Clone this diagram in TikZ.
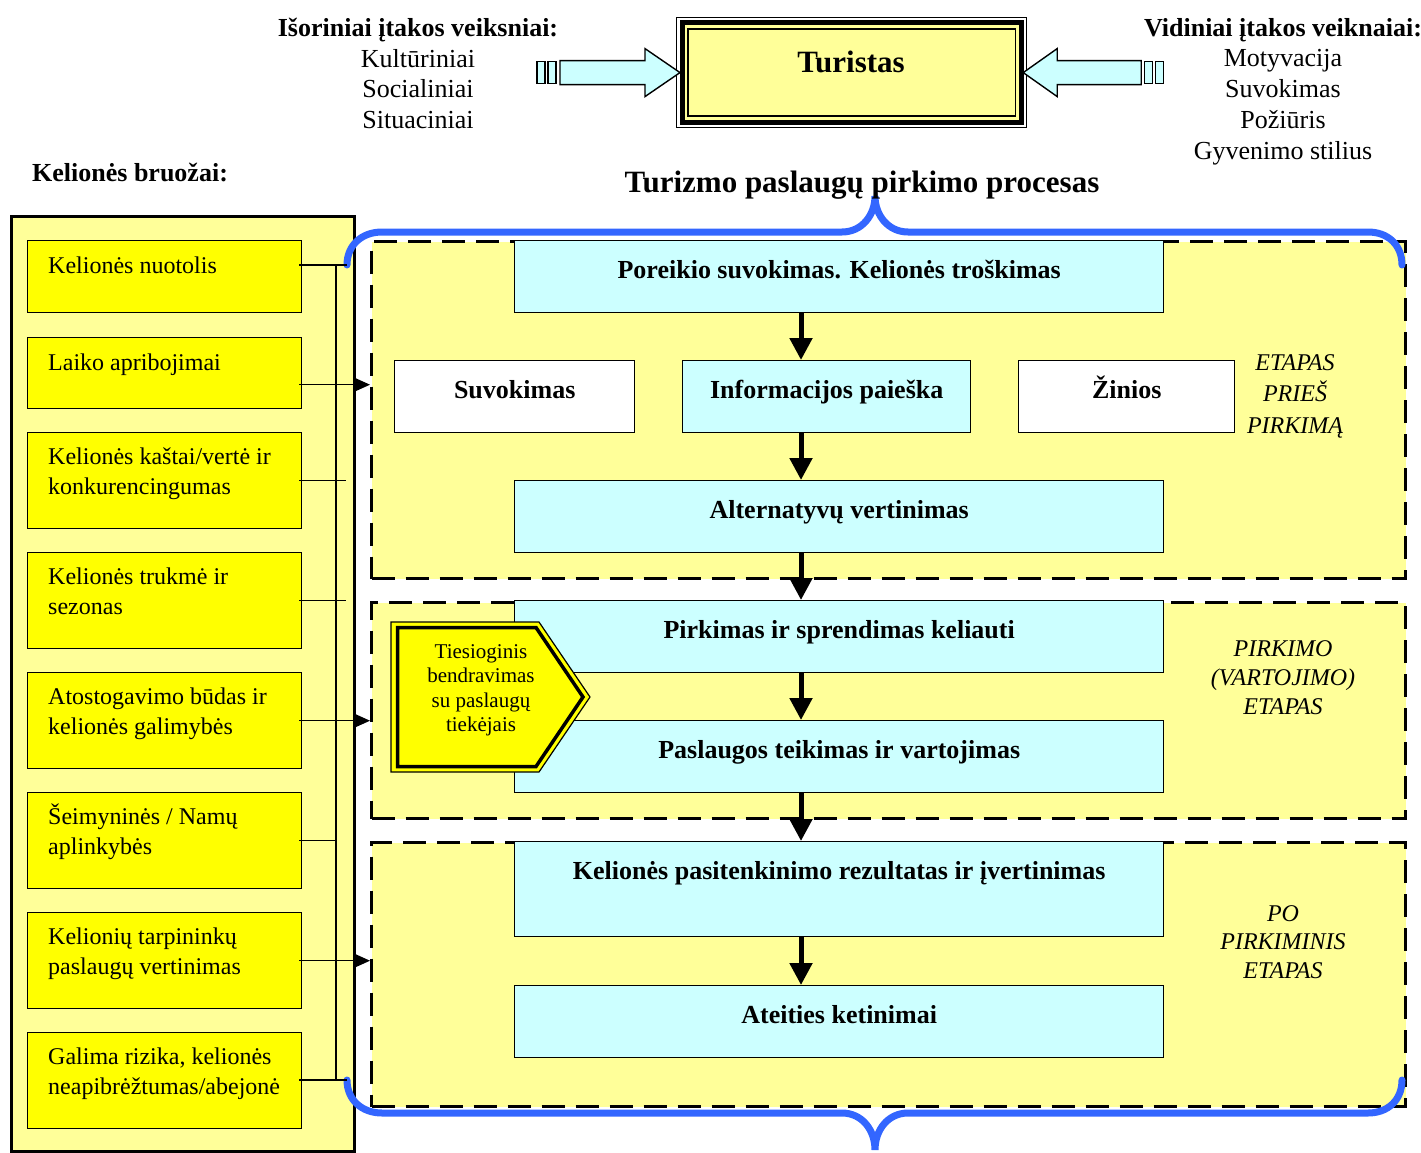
\documentclass[tikz,border=0pt]{standalone}
\usepackage{fontspec}
\setmainfont{Liberation Serif}
\usetikzlibrary{arrows.meta,calc}

\definecolor{paleyellow}{RGB}{255,255,153}
\definecolor{brightyellow}{RGB}{255,255,0}
\definecolor{palecyan}{RGB}{204,255,255}
\definecolor{braceblue}{RGB}{51,102,255}

\tikzset{
  x=1pt, y=-1pt,
  listbox/.style={draw, line width=1.4pt, fill=brightyellow, anchor=north west,
    inner sep=0, minimum width=274, minimum height=#1},
  listtext/.style={anchor=north west, inner sep=0, align=left,
    font=\fontsize{24}{29.5}\selectfont},
  procbox/.style={draw, line width=1.4pt, fill=palecyan, anchor=north west,
    inner sep=0, minimum height=72},
  whitebox/.style={draw, line width=1.4pt, fill=white, anchor=north west,
    inner sep=0, minimum height=72},
  proctext/.style={anchor=base, inner sep=0, font=\fontsize{26}{30}\selectfont\bfseries},
  stagebox/.style={draw, line width=3pt, dash pattern=on 23pt off 11pt,
    fill=paleyellow, anchor=north west, inner sep=0, minimum width=1034},
  stagetext/.style={anchor=north, inner sep=0, align=center,
    font=\fontsize{24}{#1}\selectfont\itshape},
  flowarrow/.style={line width=5pt, -{Triangle[length=22pt,width=22pt]}},
  feedarrow/.style={line width=1.4pt, -{Triangle[length=17pt,width=15pt]}},
  feedline/.style={line width=1.4pt},
  blockarrow/.style={draw, line width=1.4pt, fill=palecyan},
  brace/.style={draw=braceblue, line width=7pt, line cap=round},
}

\begin{document}
\begin{tikzpicture}
\useasboundingbox (0,0) rectangle (1421,1153);

% ---------- tourist and influencing factors ----------
\node[draw, line width=1.2pt, fill=white, anchor=north west, inner sep=0,
      minimum width=350, minimum height=110] (turistas) at (676,17) {};
\draw[line width=5pt, fill=paleyellow]
  ($(turistas.north west)+(6,6)$) rectangle ($(turistas.south east)+(-6,-6)$);
\draw[line width=1.4pt]
  ($(turistas.north west)+(12,12)$) rectangle ($(turistas.south east)+(-12,-12)$);
\node[anchor=base, inner sep=0, font=\fontsize{31}{36}\selectfont\bfseries]
  (turistastext) at (851,73) {Turistas};

\node[anchor=base, inner sep=0, font=\fontsize{26}{30}\selectfont\bfseries]
  (exthead) at (418,37) {Išoriniai įtakos veiksniai:};
\node[anchor=north, inner sep=0, align=center, font=\fontsize{26}{30.5}\selectfont]
  (extlist) at (418,45.6) {\strut Kultūriniai\\Socialiniai\\Situaciniai};

\node[anchor=base, inner sep=0, font=\fontsize{26}{30}\selectfont\bfseries]
  (inthead) at (1283,37) {Vidiniai įtakos veiknaiai:};
\node[anchor=north, inner sep=0, align=center, font=\fontsize{26}{31}\selectfont]
  (intlist) at (1283,44.8) {\strut Motyvacija\\Suvokimas\\Požiūris\\Gyvenimo stilius};

% block arrows pointing at the tourist
\coordinate (ltip) at ($(turistas.west)+(4,0)$);
\path[blockarrow] (ltip) -- ++(-35,-24) -- ++(0,12) -- ++(-85,0) -- ++(0,24)
  -- ++(85,0) -- ++(0,12) -- cycle;
\path[blockarrow] ($(ltip)+(-124,-11)$) rectangle ++(-8,22);
\path[blockarrow] ($(ltip)+(-135,-11)$) rectangle ++(-8,22);

\coordinate (rtip) at ($(turistas.east)+(-4,0)$);
\path[blockarrow] (rtip) -- ++(34,-24) -- ++(0,12) -- ++(84,0) -- ++(0,24)
  -- ++(-84,0) -- ++(0,12) -- cycle;
\path[blockarrow] ($(rtip)+(121,-11)$) rectangle ++(8,22);
\path[blockarrow] ($(rtip)+(132,-11)$) rectangle ++(8,22);

% ---------- trip features ----------
\node[anchor=base west, inner sep=0, font=\fontsize{26}{30}\selectfont\bfseries]
  (feathead) at (32,181) {Kelionės bruožai:};
\node[draw, line width=3pt, fill=paleyellow, anchor=north west, inner sep=0,
      minimum width=343, minimum height=935] (panel) at (10,215) {};

\node[listbox=72] (i1) at (27,240) {};
\node[listbox=71] (i2) at (27,337) {};
\node[listbox=96] (i3) at (27,432) {};
\node[listbox=96] (i4) at (27,552) {};
\node[listbox=96] (i5) at (27,672) {};
\node[listbox=96] (i6) at (27,792) {};
\node[listbox=96] (i7) at (27,912) {};
\node[listbox=96] (i8) at (27,1032) {};

\node[listtext] at ($(i1.north west)+(21,13)$) {\strut Kelionės nuotolis};
\node[listtext] at ($(i2.north west)+(21,13)$) {\strut Laiko apribojimai};
\node[listtext] at ($(i3.north west)+(21,12)$) {\strut Kelionės kaštai/vertė ir\\konkurencingumas};
\node[listtext] at ($(i4.north west)+(21,12)$) {\strut Kelionės trukmė ir\\sezonas};
\node[listtext] at ($(i5.north west)+(21,12)$) {\strut Atostogavimo būdas ir\\kelionės galimybės};
\node[listtext] at ($(i6.north west)+(21,12)$) {\strut Šeimyninės / Namų\\aplinkybės};
\node[listtext] at ($(i7.north west)+(21,12)$) {\strut Kelionių tarpininkų\\paslaugų vertinimas};
\node[listtext] at ($(i8.north west)+(21,12)$) {\strut Galima rizika, kelionės\\neapibrėžtumas/abejonė};

% ---------- purchase process stages ----------
\node[stagebox, minimum height=337] (stA) at (370,240) {};
\node[stagebox, minimum height=216] (stB) at (370,601) {};
\node[stagebox, minimum height=264] (stC) at (370,841) {};

\node[procbox, minimum width=649] (need) at (514,240) {};
\node[whitebox, minimum width=240] (perc) at (394,360) {};
\node[procbox, minimum width=288] (info) at (682,360) {};
\node[whitebox, minimum width=216] (know) at (1018,360) {};
\node[procbox, minimum width=649] (alt) at (514,480) {};
\node[procbox, minimum width=649] (buy) at (514,600) {};
\node[procbox, minimum width=649] (serv) at (514,720) {};
\node[procbox, minimum width=649, minimum height=95] (sat) at (514,841) {};
\node[procbox, minimum width=649] (fut) at (514,985) {};

\node[proctext] at ($(need.north)+(0,38)$) {Poreikio suvokimas. Kelionės troškimas};
\node[proctext] at ($(perc.north)+(0,38)$) {Suvokimas};
\node[proctext] at ($(info.north)+(0,38)$) {Informacijos paieška};
\node[proctext] at ($(know.north)+(0,38)$) {Žinios};
\node[proctext] at ($(alt.north)+(0,38)$) {Alternatyvų vertinimas};
\node[proctext] at ($(buy.north)+(0,38)$) {Pirkimas ir sprendimas keliauti};
\node[proctext] at ($(serv.north)+(0,38)$) {Paslaugos teikimas ir vartojimas};
\node[proctext] at ($(sat.north)+(0,38)$) {Kelionės pasitenkinimo rezultatas ir įvertinimas};
\node[proctext] at ($(fut.north)+(0,38)$) {Ateities ketinimai};

\node[stagetext=31.5] (labA) at (1295,354) {ETAPAS\\PRIEŠ\\PIRKIMĄ};
\node[stagetext=29] (labB) at (1283,640) {PIRKIMO\\(VARTOJIMO)\\ETAPAS};
\node[stagetext=28.5] (labC) at (1283,905) {PO\\PIRKIMINIS\\ETAPAS};

% flow between the steps
\coordinate (fx) at (801,0);
\draw[flowarrow] (need.south -| fx) -- (info.north -| fx);
\draw[flowarrow] (info.south -| fx) -- (alt.north -| fx);
\draw[flowarrow] (alt.south -| fx) -- (buy.north -| fx);
\draw[flowarrow] (buy.south -| fx) -- (serv.north -| fx);
\draw[flowarrow] (serv.south -| fx) -- (sat.north -| fx);
\draw[flowarrow] (sat.south -| fx) -- (fut.north -| fx);

% direct contact with suppliers
\path[draw, line width=1.2pt, fill=brightyellow]
  (391,622) -- (539,622) -- (590,697) -- (539,772) -- (391,772) -- cycle;
\path[draw, line width=3.5pt, fill=brightyellow]
  (397.5,627.5) -- (536,627.5) -- (583,697) -- (536,766.5) -- (397.5,766.5) -- cycle;
\node[anchor=north, inner sep=0, align=center, font=\fontsize{21}{24.5}\selectfont]
  (contact) at (481,641) {\strut Tiesioginis\\bendravimas\\su paslaugų\\tiekėjais};

% ---------- brace around the process ----------
\coordinate (brTL) at (347,265);
\coordinate (brTR) at (1402,265);
\coordinate (brBL) at (347,1080);
\coordinate (brBR) at (1402,1080);
\path[brace] (brTL) .. controls (347,245) and (362,232) .. (382,232) -- (842,232)
  .. controls (862,232) and (875,215) .. (875,196)
  .. controls (875,215) and (888,232) .. (908,232) -- (1368,232)
  .. controls (1388,232) and (1402,245) .. (brTR);
\path[brace] (brBL) .. controls (347,1100) and (362,1113) .. (382,1113) -- (842,1113)
  .. controls (862,1113) and (875,1130) .. (875,1150)
  .. controls (875,1130) and (888,1113) .. (908,1113) -- (1368,1113)
  .. controls (1388,1113) and (1402,1100) .. (brBR);

% ---------- features feeding the process ----------
\coordinate (bus) at (336,0);
\draw[feedline] (bus |- brTL) -- (bus |- brBL);
\draw[feedline] ([xshift=-3pt]i1.east |- brTL) -- (brTL);
\draw[feedline] ([xshift=-3pt]i8.east |- brBL) -- (brBL);
\draw[feedline] ([xshift=-3pt]i3.east) -- ([xshift=10pt]bus |- i3.east);
\draw[feedline] ([xshift=-3pt]i4.east) -- ([xshift=10pt]bus |- i4.east);
\draw[feedline] ([xshift=-3pt]i6.east) -- (bus |- i6.east);
\draw[feedarrow] ([xshift=-3pt,yshift=-11.5pt]i2.east) -- ([yshift=-11.5pt]i2.east -| stA.west);
\draw[feedarrow] ([xshift=-3pt]i5.east) -- (i5.east -| stB.west);
\draw[feedarrow] ([xshift=-3pt]i7.east) -- (i7.east -| stC.west);

% title over the brace
\node[anchor=base, inner sep=0, font=\fontsize{31}{36}\selectfont\bfseries]
  (title) at (862,192) {Turizmo paslaugų pirkimo procesas};
\end{tikzpicture}
\end{document}
